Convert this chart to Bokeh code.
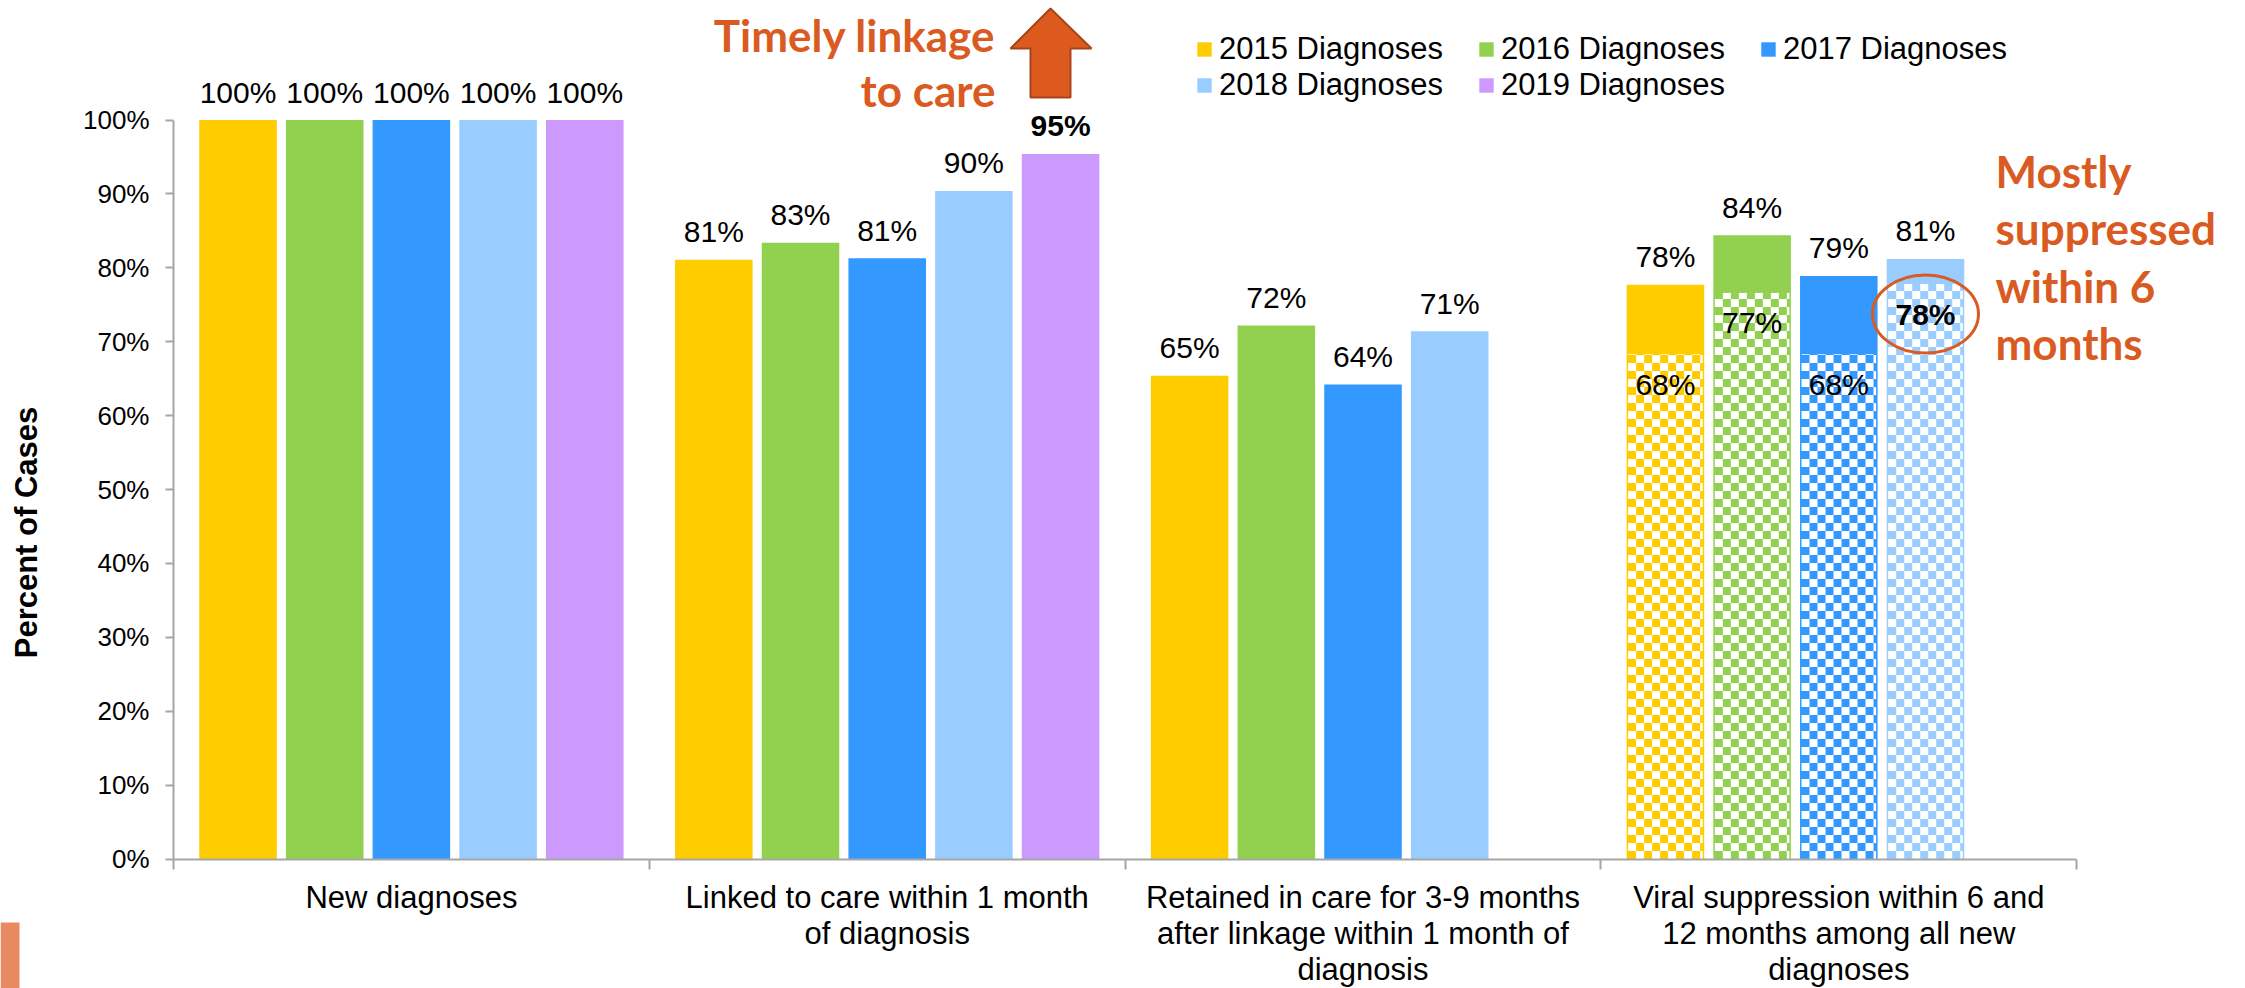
import math
import numpy as np
from bokeh.plotting import figure
from bokeh.models import (Range1d, FixedTicker, NumeralTickFormatter, ColumnDataSource,
                          Legend, LegendItem)
from bokeh.core.properties import value
from bokeh.embed import file_html
from bokeh.resources import INLINE

# ---------------- data ----------------
categories = [
    "New diagnoses",
    "Linked to care within 1 month\nof diagnosis",
    "Retained in care for 3-9 months\nafter linkage within 1 month of\ndiagnosis",
    "Viral suppression within 6 and\n12 months among all new\ndiagnoses",
]
series = ["2015 Diagnoses", "2016 Diagnoses", "2017 Diagnoses", "2018 Diagnoses", "2019 Diagnoses"]
colors = ["#FFCC00", "#92D050", "#3399FF", "#99CCFF", "#CC99FF"]

v2015 = [100, 81.1, 65.4, 77.7]
v2016 = [100, 83.4, 72.2, 84.4]
v2017 = [100, 81.3, 64.2, 78.9]
v2018 = [100, 90.4, 71.4, 81.2]
v2019 = [100, 95.4, None, None]
values = [v2015, v2016, v2017, v2018, v2019]

# viral suppression within 6 months (part of the last group), 2015-2018
suppressed_6mo = [68.3, 76.6, 68.3, 77.8]

yticks = [i / 10 for i in range(11)]

# ---------------- geometry helpers (picture pixels -> data) ----------------
W, H = 2245, 988
PX_X, PX_Y = 475.8, 739.0
X0, Y0 = 173.0, 858.5
def X(px): return (px - X0) / PX_X
def Y(py): return (Y0 - py) / PX_Y

SLOT = 0.1822
BAR_W = 0.163
ORANGE = "#DA5B22"
FONT = value("Liberation Sans")

p = figure(width=W, height=H, x_range=Range1d(X(0), X(W)), y_range=Range1d(Y(H), Y(0)),
           output_backend="svg", toolbar_location=None, min_border=0)
p.outline_line_color = None
p.grid.visible = False
p.background_fill_color = "white"

# ---------------- bars ----------------
renderers = []
lab_x, lab_y, lab_t, lab_style = [], [], [], []
for k, (name, col, vals) in enumerate(zip(series, colors, values)):
    xs, tops = [], []
    for i, v in enumerate(vals):
        if v is None:
            continue
        xs.append(i + 0.5 + (k - 2) * SLOT)
        tops.append(v / 100)
        lab_x.append(xs[-1]); lab_y.append(v / 100); lab_t.append(f"{round(v)}%")
        lab_style.append("bold" if (name == "2019 Diagnoses" and i == 1) else "normal")
    r = p.vbar(x=xs, top=tops, bottom=0, width=BAR_W, fill_color=col, line_color=None)
    renderers.append(r)

# checkerboard (within-6-months part)
cw, ch = 8 / PX_X, 8 / PX_Y
inset = 1.5 / PX_X
L, R, T, B = [], [], [], []
six_x, six_y, six_t, six_style = [], [], [], []
for k, v6 in enumerate(suppressed_6mo):
    xc = 3 + 0.5 + (k - 2) * SLOT
    left, right = xc - BAR_W / 2 + inset, xc + BAR_W / 2 - inset
    top = v6 / 100
    ncol = math.ceil((right - left) / cw)
    nrow = math.ceil(top / ch)
    for r_ in range(nrow):
        for c_ in range(ncol):
            if (r_ + c_) % 2 == 1:
                L.append(left + c_ * cw); R.append(min(left + (c_ + 1) * cw, right))
                B.append(r_ * ch); T.append(min((r_ + 1) * ch, top))
    six_x.append(xc); six_y.append(top); six_t.append(f"{round(v6)}%")
    six_style.append("bold" if series[k] == "2018 Diagnoses" else "normal")
p.quad(left=L, right=R, top=T, bottom=B, fill_color="white", line_color=None)

# ---------------- value labels ----------------
src = ColumnDataSource(dict(x=lab_x, y=lab_y, t=lab_t, s=lab_style))
p.text(x="x", y="y", text="t", text_font_style="s", source=src, text_font=FONT,
       text_font_size="30px", text_align="center", text_baseline="middle", y_offset=-28,
       text_color="black")
src6 = ColumnDataSource(dict(x=six_x, y=six_y, t=six_t, s=six_style))
p.text(x="x", y="y", text="t", text_font_style="s", source=src6, text_font=FONT,
       text_font_size="30px", text_align="center", text_baseline="middle", y_offset=30,
       text_color="black")

# highlight ellipse around 2018 within-6-months label
hx = 3 + 0.5 + (3 - 2) * SLOT
p.ellipse(x=[hx], y=[suppressed_6mo[3] / 100 - 30 / PX_Y], width=106, height=78,
          width_units="screen", height_units="screen", fill_color=None,
          line_color=ORANGE, line_width=3)

# ---------------- axes ----------------
xa = p.xaxis[0]
xa.fixed_location = 0
xa.ticker = FixedTicker(ticks=[], minor_ticks=[0, 1, 2, 3, 4])
xa.bounds = (0, 4)
xa.major_tick_out = 0
xa.major_tick_in = 0
xa.minor_tick_out = 10
xa.minor_tick_in = 0
xa.axis_line_color = "#A6A6A6"
xa.axis_line_width = 2
xa.minor_tick_line_color = "#A6A6A6"
xa.minor_tick_line_width = 2

ya = p.yaxis[0]
ya.fixed_location = 0
ya.ticker = FixedTicker(ticks=yticks)
ya.bounds = (0, 1)
ya.formatter = NumeralTickFormatter(format="0%")
ya.major_label_text_font = "Liberation Sans"
ya.major_label_text_font_size = "26px"
ya.major_label_text_color = "black"
ya.major_tick_out = 8
ya.major_tick_in = 0
ya.minor_tick_out = 0
ya.minor_tick_in = 0
ya.major_label_standoff = 16
ya.axis_line_color = "#A6A6A6"
ya.axis_line_width = 2
ya.major_tick_line_color = "#A6A6A6"
ya.major_tick_line_width = 2

# y axis title
p.text(x=[X(26)], y=[Y(532)], text=["Percent of Cases"], angle=math.pi / 2, text_font=FONT,
       text_font_size="31px", text_font_style="bold", text_align="center",
       text_baseline="middle", text_color="black")

# category labels
p.text(x=[i + 0.5 for i in range(len(categories))], y=[Y(879)] * len(categories), text=categories,
       text_font=FONT, text_font_size="31px", text_align="center", text_baseline="top",
       text_line_height=1.04, text_color="black")

# ---------------- annotations ----------------
# arrow "timely linkage"
ax_px = [1050, 1091, 1070, 1070, 1030, 1030, 1010]
ay_px = [8, 48, 48, 97, 97, 48, 48]
p.patch(x=[X(v) for v in ax_px], y=[Y(v) for v in ay_px], fill_color="#DC5A1E",
        line_color="#A8441A", line_width=2)

lines1 = ["Timely linkage", "to care"]
p.text(x=[X(995)] * 2, y=[Y(34), Y(89)], text=lines1, text_font=value("Lato"),
       text_font_size="44px", text_font_style="bold", text_align="right",
       text_baseline="alphabetic", text_color=ORANGE)

lines2 = ["Mostly", "suppressed", "within 6", "months"]
p.text(x=[X(1995)] * 4, y=[Y(170 + 57.5 * i) for i in range(4)], text=lines2,
       text_font=value("Lato"), text_font_size="44px", text_font_style="bold",
       text_align="left", text_baseline="alphabetic", text_color=ORANGE)

# slide decoration at bottom-left
p.quad(left=[X(0)], right=[X(19)], top=[Y(922)], bottom=[Y(995)], fill_color="#E8895F",
       line_color=None)

# ---------------- legend ----------------
legend = Legend(items=[LegendItem(label=s, renderers=[r]) for s, r in zip(series, renderers)],
                orientation="horizontal", ncols=3, location=(1195, 885),
                label_text_font="Liberation Sans", label_text_font_size="31px",
                label_text_color="black", glyph_width=18, glyph_height=18, label_standoff=6,
                label_width=258, label_height=35, spacing=0, padding=0, margin=0,
                border_line_color=None, background_fill_alpha=0)
p.add_layout(legend)

open("out.html", "w").write(file_html(p, INLINE))
